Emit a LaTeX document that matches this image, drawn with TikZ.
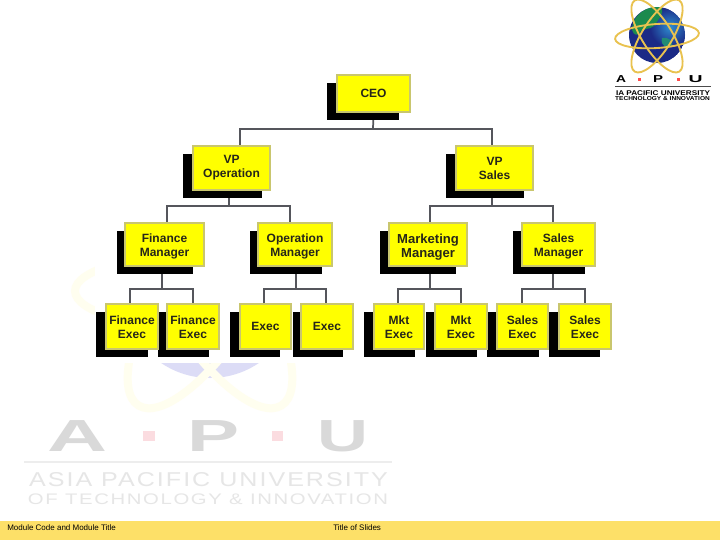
\documentclass[tikz,border=0pt]{standalone}
\usepackage{fontspec}
\usepackage{graphicx}
\setmainfont{Liberation Sans}
\definecolor{chartyellow}{HTML}{FFFF00}
\definecolor{boxedge}{HTML}{C9C66E}
\definecolor{linkgrey}{HTML}{55565C}
\definecolor{chartink}{HTML}{26261A}
\definecolor{footerbar}{HTML}{FDE068}
\definecolor{markgrey}{HTML}{D9D9D9}
\definecolor{marktext}{HTML}{E6E6E6}
\definecolor{markpink}{HTML}{FBDCE0}
\definecolor{marklilac}{HTML}{DCDCF6}
\definecolor{markorbit}{HTML}{FFFEEF}
\definecolor{orbit}{HTML}{E9C24F}
\definecolor{globenavy}{HTML}{1B2A86}
\definecolor{globeblue}{HTML}{2F8ED0}
\definecolor{globegreen}{HTML}{1C8A4E}
\pgfdeclarelayer{groundlayer}
\pgfdeclarelayer{linklayer}
\pgfdeclarelayer{shadowlayer}
\pgfsetlayers{groundlayer,linklayer,shadowlayer,main}
\tikzset{
  chartbox/.style={draw=boxedge,line width=0.8pt,fill=chartyellow,inner sep=0pt,align=center,
    text=chartink,font=\fontsize{9}{10.5}\selectfont\bfseries},
  shadowbox/.style={fill=black,inner sep=0pt},
  link/.style={draw=linkgrey,line width=1.3pt},
  tx/.style={inner sep=0pt,outer sep=0pt,anchor=center},
  footertext/.style={inner sep=0pt,anchor=west,text=black,font=\fontsize{6}{8}\selectfont},
}
% name, x1, y1, x2, y2, shadow x1, shadow x2, text
\newcommand\orgbox[8]{%
  \pgfmathsetmacro\bw{(#4-#2)*0.75}\pgfmathsetmacro\bh{(#5-#3)*0.75}%
  \pgfmathsetmacro\sw{(#7-#6)*0.75}%
  \node[chartbox,minimum width=\bw pt,minimum height=\bh pt] (#1) at ({(#2+#4)/2},{(#3+#5)/2}) {#8};
  \begin{pgfonlayer}{shadowlayer}
    \node[shadowbox,minimum width=\sw pt,minimum height=\bh pt] (#1s) at ({(#6+#7)/2},{(#3+#5)/2+7.5}) {};
  \end{pgfonlayer}
}
% name, cx, cy, width pt, height pt, colour, text
\newcommand\fittext[7]{%
  \node[tx,text=#6] (#1) at (#2,#3) {\resizebox{#4pt}{#5pt}{#7}};}
\newcommand\lowerA{\rule{0pt}{9.4pt}}
\newcommand\lowerB{\rule{0pt}{8pt}}
\newcommand\lowerC{\rule{0pt}{10.8pt}}
\begin{document}
\begin{tikzpicture}[x=0.75pt,y=-0.75pt]
\useasboundingbox (0,0) rectangle (720,540);
\begin{pgfonlayer}{groundlayer}
\fill[white] (0,0) rectangle (720,540);
% --- pale watermark globe and orbits
\fill[marklilac] (210,291) circle (87);
\foreach \a/\ry in {0/38,58/48,-58/48}
  \draw[markorbit,line width=6pt,rotate around={\a:(210,291)}] (210,291) ellipse (135 and \ry);
% --- pale watermark wordmark
\fittext{wa}{78}{436.5}{45}{23.2}{markgrey}{\bfseries A}
\fittext{wp}{214}{436.5}{39}{23.2}{markgrey}{\bfseries P}
\fittext{wu}{342.5}{436.5}{38.2}{23.2}{markgrey}{\bfseries U}
\fill[markpink] (143,431) rectangle (155,441);
\fill[markpink] (272,431) rectangle (283,441);
\draw[draw=white!93!black,line width=0.8pt] (24,462) -- (392,462);
\fittext{wasia}{208.5}{480}{269}{10.5}{marktext}{\addfontfeature{LetterSpace=8}ASIA PACIFIC UNIVERSITY}
\fittext{wtech}{208}{499}{270}{8}{marktext}{\addfontfeature{LetterSpace=8}OF TECHNOLOGY \& INNOVATION}
% --- white ground of the chart picture
\fill[white] (95,60) rectangle (620,363);
\end{pgfonlayer}
% --- chart
\orgbox{ceo}{337}{75}{410}{112}{327}{399}{CEO}
\orgbox{vpo}{193}{146}{270}{190}{183}{262}{VP\\Operation}
\orgbox{vps}{456}{146}{533}{190}{446}{524}{VP\\Sales}
\orgbox{fm}{125}{223}{204}{266}{117}{193}{\lowerA Finance\\Manager}
\orgbox{om}{258}{223}{332}{266}{250}{322}{\lowerA Operation\\Manager}
\orgbox{mm}{389}{223}{467}{266}{380}{456}{\fontsize{9.8}{11}\selectfont\lowerC Marketing\\\fontsize{9.8}{11}\selectfont Manager}
\orgbox{sm}{522}{223}{595}{266}{513}{585}{\lowerA Sales\\Manager}
\orgbox{fea}{106}{304}{158}{349}{96}{148}{\lowerB Finance\\Exec}
\orgbox{feb}{167}{304}{219}{349}{158}{209}{\lowerB Finance\\Exec}
\orgbox{exa}{240}{304}{291}{349}{230}{280}{Exec}
\orgbox{exb}{301}{304}{353}{349}{293}{343}{Exec}
\orgbox{mka}{374}{304}{424}{349}{364}{415}{\lowerB Mkt\\Exec}
\orgbox{mkb}{435}{304}{487}{349}{426}{477}{\lowerB Mkt\\Exec}
\orgbox{saa}{497}{304}{548}{349}{487}{539}{\lowerB Sales\\Exec}
\orgbox{sab}{559}{304}{611}{349}{549}{600}{\lowerB Sales\\Exec}
\coordinate (b0) at (373,129);
\coordinate (b1) at (229,206);
\coordinate (b2) at (492,206);
\coordinate (b3) at (162,289);
\coordinate (b4) at (296,289);
\coordinate (b5) at (430,289);
\coordinate (b6) at (553,289);
\begin{pgfonlayer}{linklayer}
  \draw[link] (ceo.south) -- (b0);
  \draw[link] (b0) -| ([shift={(8.5,0)}]vpo.north);
  \draw[link] (b0) -| ([shift={(-2.5,0)}]vps.north);
  \draw[link] (b1 |- vpo.south) -- (b1);
  \draw[link] (b1) -| ([shift={(2.5,0)}]fm.north);
  \draw[link] (b1) -| ([shift={(-5,0)}]om.north);
  \draw[link] (b2 |- vps.south) -- (b2);
  \draw[link] (b2) -| ([shift={(2,0)}]mm.north);
  \draw[link] (b2) -| ([shift={(-5.5,0)}]sm.north);
  \draw[link] (b3 |- fm.south) -- (b3);
  \draw[link] (b3) -| ([shift={(-2,0)}]fea.north);
  \draw[link] (b3) -| (feb.north);
  \draw[link] (b4 |- om.south) -- (b4);
  \draw[link] (b4) -| ([shift={(-1.5,0)}]exa.north);
  \draw[link] (b4) -| ([shift={(-1,0)}]exb.north);
  \draw[link] (b5 |- mm.south) -- (b5);
  \draw[link] (b5) -| ([shift={(-1,0)}]mka.north);
  \draw[link] (b5) -| (mkb.north);
  \draw[link] (b6 |- sm.south) -- (b6);
  \draw[link] (b6) -| ([shift={(-0.5,0)}]saa.north);
  \draw[link] (b6) -| (sab.north);
\end{pgfonlayer}
% --- logo globe
\begin{scope}
  \clip (657,35) circle (28);
  \fill[globenavy] (657,35) circle (28);
  \shade[inner color=globeblue,outer color=globenavy] (670,27) circle (20);
  \fill[globegreen] (632,30) .. controls (632,14) and (648,5) .. (662,7)
     .. controls (664,14) and (658,20) .. (654,26) .. controls (650,30) and (642,28) .. (640,32)
     .. controls (638,36) and (634,36) .. (632,30);
  \fill[globegreen!70!globeblue] (662,38) .. controls (668,36) and (674,42) .. (672,46)
     .. controls (668,50) and (660,46) .. (662,38);
\end{scope}
\foreach \a/\ry in {4/12,58/15,-58/15}
  \draw[orbit,line width=1.4pt,rotate around={\a:(657,36)}] (657,36) ellipse (42 and \ry);
% --- logo wordmark
\fittext{la}{621}{79.5}{7.5}{5.2}{black}{\bfseries A}
\fittext{lp}{658}{79.5}{7.5}{5.2}{black}{\bfseries P}
\fittext{lu}{695.5}{79.5}{10.5}{5.2}{black}{\bfseries U}
\fill[red!70!white] (637.5,78) rectangle (640.5,81);
\fill[red!70!white] (676.5,78) rectangle (679.5,81);
\draw[black!70,line width=0.4pt] (615,86) -- (711,86);
\fittext{lasia}{663}{93}{70.5}{3.6}{black}{\bfseries IA PACIFIC UNIVERSITY}
\fittext{ltech}{662.5}{99}{71}{3}{black}{\bfseries TECHNOLOGY \& INNOVATION}
% --- footer
\fill[footerbar] (0,521) rectangle (720,540);
\node[footertext] (fl) at (7,528) {Module Code and Module Title};
\node[footertext] (fr) at (333,528) {Title of Slides};
\end{tikzpicture}
\end{document}
